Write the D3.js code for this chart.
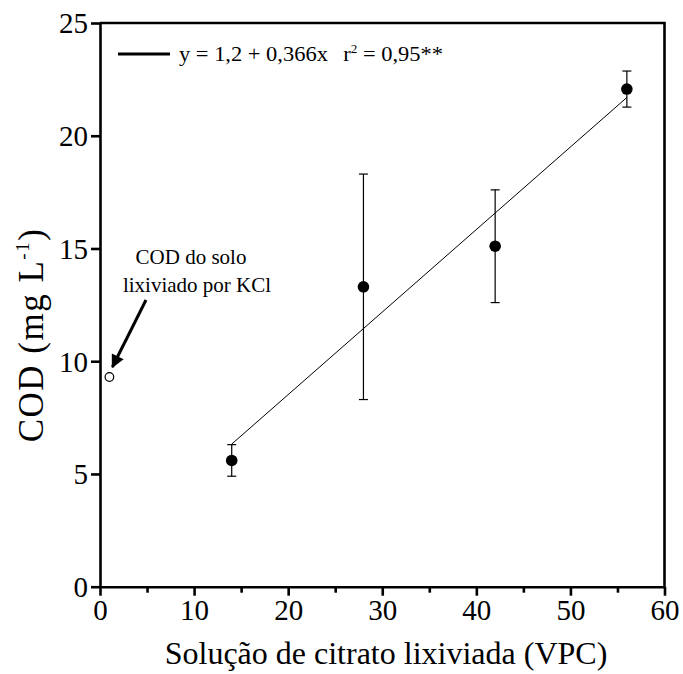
<!DOCTYPE html>
<html>
<head>
<meta charset="utf-8">
<script src="https://cdn.jsdelivr.net/npm/d3@7"></script>
<style>
  body { margin: 0; background: #fff; }
  svg { display: block; }
  text { font-family: "Liberation Serif", "Times New Roman", serif; fill: #000; }
</style>
</head>
<body>
<svg id="chart" width="683" height="674"></svg>
<script>
// Leached citrate solution volumes (VPC) and dissolved organic carbon
const vpc = [14, 28, 42, 56];
const codMean = [5.6, 13.3, 15.1, 22.07];
const codErr = [0.7, 5.0, 2.5, 0.8];

// Soil leached with KCl (reference point)
const kclVpc = [1];
const kclCod = [9.3];

// Fitted regression y = a + b x
const fitA = 1.2;
const fitB = 0.366;
const fitRange = [14, 56];

const xTicks = [0, 10, 20, 30, 40, 50, 60];
const xMinorTicks = [5, 15, 25, 35, 45, 55];
const yTicks = [0, 5, 10, 15, 20, 25];

const svg = d3.select("#chart");
const plotLeft = 100, plotRight = 664.5, plotTop = 23, plotBottom = 586.7;

const x = d3.scaleLinear().domain([0, 60]).range([plotLeft, plotRight]);
const y = d3.scaleLinear().domain([0, 25]).range([plotBottom, plotTop]);

// Frame (top and right borders)
svg.append("path")
  .attr("d", `M${plotLeft},${plotTop}H${plotRight}V${plotBottom}`)
  .attr("fill", "none").attr("stroke", "#000").attr("stroke-width", 2.6);

// X axis
const xAxis = svg.append("g").attr("transform", `translate(0,${plotBottom})`)
  .call(d3.axisBottom(x).tickValues(xTicks).tickSize(9).tickSizeOuter(0).tickPadding(3));
svg.append("g").attr("transform", `translate(0,${plotBottom})`)
  .call(d3.axisBottom(x).tickValues(xMinorTicks).tickSize(6).tickSizeOuter(0).tickFormat(""))
  .call(g => g.select(".domain").remove())
  .selectAll("line").attr("stroke-width", 2.6);

// Y axis
const yAxis = svg.append("g").attr("transform", `translate(${plotLeft},0)`)
  .call(d3.axisLeft(y).tickValues(yTicks).tickSize(9).tickSizeOuter(0).tickPadding(3));

[xAxis, yAxis].forEach(g => {
  g.select(".domain").attr("stroke-width", 2.6);
  g.selectAll(".tick line").attr("stroke-width", 2.6);
  g.selectAll(".tick text")
    .style("font-family", '"Liberation Serif", serif')
    .style("font-size", "29px");
});
xAxis.selectAll(".tick text").attr("dy", "0.74em");
yAxis.selectAll(".tick text").attr("dy", "0.34em");

// Regression line
svg.append("line")
  .attr("x1", x(fitRange[0])).attr("y1", y(fitA + fitB * fitRange[0]))
  .attr("x2", x(fitRange[1])).attr("y2", y(fitA + fitB * fitRange[1]))
  .attr("stroke", "#000").attr("stroke-width", 1);

// Error bars
const bars = svg.append("g").attr("stroke", "#000").attr("stroke-width", 1.2);
vpc.forEach((v, i) => {
  const cx = x(v), hi = y(codMean[i] + codErr[i]), lo = y(codMean[i] - codErr[i]);
  bars.append("line").attr("x1", cx).attr("x2", cx).attr("y1", hi).attr("y2", lo);
  bars.append("line").attr("x1", cx - 4.5).attr("x2", cx + 4.5).attr("y1", hi).attr("y2", hi);
  bars.append("line").attr("x1", cx - 4.5).attr("x2", cx + 4.5).attr("y1", lo).attr("y2", lo);
});

// Mean points
svg.append("g").selectAll("circle").data(vpc).join("circle")
  .attr("cx", d => x(d)).attr("cy", (d, i) => y(codMean[i])).attr("r", 5.8)
  .attr("fill", "#000");

// KCl point (open)
svg.append("g").selectAll("circle").data(kclVpc).join("circle")
  .attr("cx", d => x(d)).attr("cy", (d, i) => y(kclCod[i])).attr("r", 4.3)
  .attr("fill", "#fff").attr("stroke", "#000").attr("stroke-width", 1.2);

// Annotation with arrow
svg.append("defs").append("marker")
  .attr("id", "arrowHead").attr("viewBox", "0 0 10 10")
  .attr("refX", 9).attr("refY", 5)
  .attr("markerWidth", 5.5).attr("markerHeight", 4.4).attr("markerUnits", "strokeWidth")
  .attr("orient", "auto")
  .append("path").attr("d", "M0,0L10,5L0,10Z").attr("fill", "#000");

svg.append("line")
  .attr("x1", 146).attr("y1", 300)
  .attr("x2", x(kclVpc[0]) + 3).attr("y2", y(kclCod[0]) - 10)
  .attr("stroke", "#000").attr("stroke-width", 3)
  .attr("marker-end", "url(#arrowHead)");

const note = svg.append("text").attr("text-anchor", "middle").style("font-size", "21px");
note.append("tspan").attr("x", 191).attr("y", 264).text("COD do solo");
note.append("tspan").attr("x", 197).attr("y", 292).text("lixiviado por KCl");

// Legend
svg.append("line").attr("x1", 118).attr("x2", 170).attr("y1", 54).attr("y2", 54)
  .attr("stroke", "#000").attr("stroke-width", 3.2);
const leg = svg.append("text").attr("x", 179).attr("y", 61).style("font-size", "20.5px")
  .attr("textLength", 264).attr("lengthAdjust", "spacingAndGlyphs");
leg.append("tspan").text("y = 1,2 + 0,366x");
leg.append("tspan").attr("dx", 14).text("r");
leg.append("tspan").attr("dy", -8).style("font-size", "12px").text("2");
leg.append("tspan").attr("dy", 8).text(" = 0,95**");

// Axis titles
svg.append("text").attr("x", 386).attr("y", 664)
  .attr("text-anchor", "middle").style("font-size", "32px")
  .text("Solução de citrato lixiviada (VPC)");

const yt = svg.append("text")
  .attr("transform", `translate(43,335) rotate(-90)`)
  .attr("text-anchor", "middle").style("font-size", "35px")
  .style("letter-spacing", "1.5px");
yt.append("tspan").text("COD (mg L");
yt.append("tspan").attr("dy", -14).style("font-size", "19px").text("-1");
yt.append("tspan").attr("dy", 14).text(")");
</script>
</body>
</html>
